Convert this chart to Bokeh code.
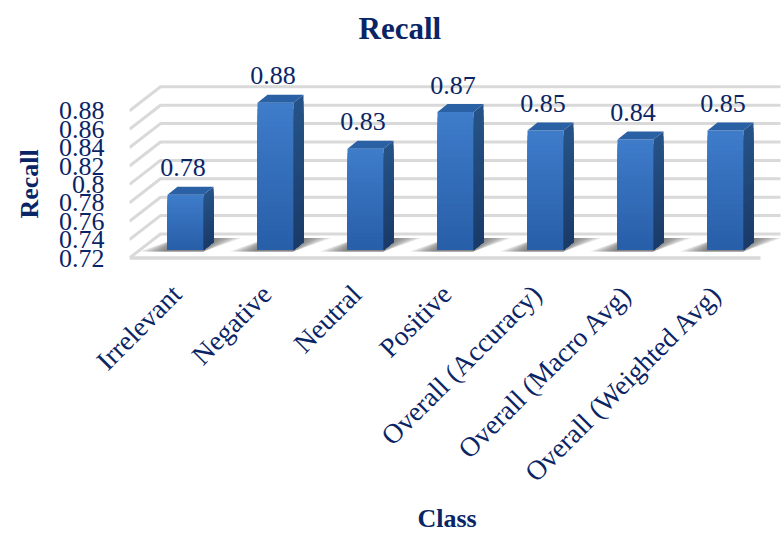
from bokeh.embed import file_html
from bokeh.models import FixedTicker, Range1d, Title
from bokeh.plotting import figure
from bokeh.resources import INLINE
from bokeh.core.properties import value

classes = ["Irrelevant", "Negative", "Neutral", "Positive",
           "Overall (Accuracy)", "Overall (Macro Avg)", "Overall (Weighted Avg)"]
recall = [0.78, 0.88, 0.83, 0.87, 0.85, 0.84, 0.85]
value_labels = ["0.78", "0.88", "0.83", "0.87", "0.85", "0.84", "0.85"]
y_ticks = [0.72, 0.74, 0.76, 0.78, 0.80, 0.82, 0.84, 0.86, 0.88]
y_tick_labels = ["0.72", "0.74", "0.76", "0.78", "0.8", "0.82", "0.84", "0.86", "0.88"]

FONT = "Liberation Serif"
NAVY = "#0a2566"
GRID = "#d9d9d9"

# pseudo-3D projection, expressed in data units
PX_X = 90.0    # pixels per category
PX_Y = 920.0   # pixels per unit of recall
BAR_W = 36 / PX_X
BAR_LIFT = 8 / PX_Y          # bars stand part-way back on the floor
DEPTH_X = 10 / PX_X          # bar depth
DEPTH_Y = 8 / PX_Y
SHADOW_Y = 12 / PX_Y         # reach of the floor shadow behind each bar
WALL_X = 31 / PX_X           # wall offset from the front edge of the floor
WALL_Y = 24 / PX_Y
LABEL_SHIFT = 9 / PX_X       # slanted class labels end left of each bar's centre
LEFT, TOP, BOTTOM = 129, 45, 262
X0 = (LEFT - 185) / PX_X
X1 = (782 - 185) / PX_X
Y0 = 0.72 - (BOTTOM - 257.5) / PX_Y
Y1 = 0.72 + (257.5 - TOP) / PX_Y

p = figure(width=782, height=534, output_backend="svg", toolbar_location=None,
           title=None, x_range=Range1d(X0, X1), y_range=Range1d(Y0, Y1),
           min_border_left=LEFT, min_border_top=TOP, min_border_right=0,
           min_border_bottom=534 - BOTTOM, outline_line_color=None,
           background_fill_color="white", border_fill_color="white")
p.grid.visible = False

# wall and floor rules
front_right = (760 - 185) / PX_X
back_right = (780 - 185) / PX_X
for t in y_ticks:
    p.line([X0, X0 + WALL_X, back_right], [t, t + WALL_Y, t + WALL_Y],
           line_color=GRID, line_width=3)
p.line([X0, front_right], [y_ticks[0], y_ticks[0]], line_color=GRID, line_width=3.5)


def mix(a, b, t):
    return "#%02x%02x%02x" % tuple(round(a[k] + (b[k] - a[k]) * t) for k in range(3))


FRONT_TOP, FRONT_BOTTOM = (62, 124, 202), (40, 94, 168)
SIDE_TOP, SIDE_BOTTOM = (38, 84, 136), (26, 58, 104)
ROOF = (42, 96, 164)
SHADOW = "#555555"
BANDS = 24

for i, v in enumerate(recall):
    xl, xr = i - BAR_W / 2, i + BAR_W / 2
    base = y_ticks[0] + BAR_LIFT
    top = v + BAR_LIFT

    # soft shadow cast on the floor, fading outwards
    for k in range(10, 0, -1):
        ext = k * 2.8 / PX_X
        p.patch([xl - ext, xr, xr + DEPTH_X + ext, xl + DEPTH_X],
                [base - 1.5 / PX_Y, base - 1.5 / PX_Y, base + SHADOW_Y, base + SHADOW_Y],
                fill_color=SHADOW, fill_alpha=0.11, line_color=None)

    # front and side faces, painted tallest first so the shading has no seams
    for k in range(BANDS, 0, -1):
        b1 = base + (top - base) * k / BANDS
        t = (k - 0.5) / BANDS
        p.quad(left=xl, right=xr, bottom=base, top=b1, line_color=None,
               fill_color=mix(FRONT_BOTTOM, FRONT_TOP, t))
        p.patch([xr, xr + DEPTH_X, xr + DEPTH_X, xr],
                [base, base + DEPTH_Y, b1 + DEPTH_Y, b1], line_color=None,
                fill_color=mix(SIDE_BOTTOM, SIDE_TOP, t))
    p.patch([xl, xr, xr + DEPTH_X, xl + DEPTH_X],
            [top, top, top + DEPTH_Y, top + DEPTH_Y],
            fill_color=mix(ROOF, ROOF, 0), line_color=None)

# value labels above the bars
p.text(x=[i - 2.5 / PX_X for i in range(len(recall))],
       y=[v + BAR_LIFT for v in recall], text=value_labels,
       text_font=value(FONT), text_font_size="26px", text_color=NAVY,
       text_align="center", text_baseline="middle", y_offset=-27)

class_ticks = [i - LABEL_SHIFT for i in range(len(classes))]
p.yaxis.ticker = FixedTicker(ticks=y_ticks)
p.yaxis.major_label_overrides = dict(zip(y_ticks, y_tick_labels))
p.xaxis.ticker = FixedTicker(ticks=class_ticks)
p.xaxis.major_label_overrides = dict(zip(class_ticks, classes))
p.xaxis.major_label_orientation = 0.785398
for ax, size, standoff in ((p.yaxis, "26px", 19), (p.xaxis, "27.5px", 21)):
    ax.axis_line_color = None
    ax.major_tick_line_color = None
    ax.minor_tick_line_color = None
    ax.major_label_text_font = FONT
    ax.major_label_text_font_size = size
    ax.major_label_text_color = NAVY
    ax.major_label_standoff = standoff

# chart and axis titles, each offset along its side of the frame
for text, side, offset, size, standoff in (("Recall", "above", 229, "31px", 0),
                                           ("Class", "below", 288, "26px", 0),
                                           ("Recall", "left", 44, "26px", 23)):
    p.add_layout(Title(text=text, align="left", offset=offset, text_font=FONT,
                       text_font_size=size, text_font_style="bold",
                       text_color=NAVY, standoff=standoff), side)

open("out.html", "w").write(file_html(p, INLINE))
